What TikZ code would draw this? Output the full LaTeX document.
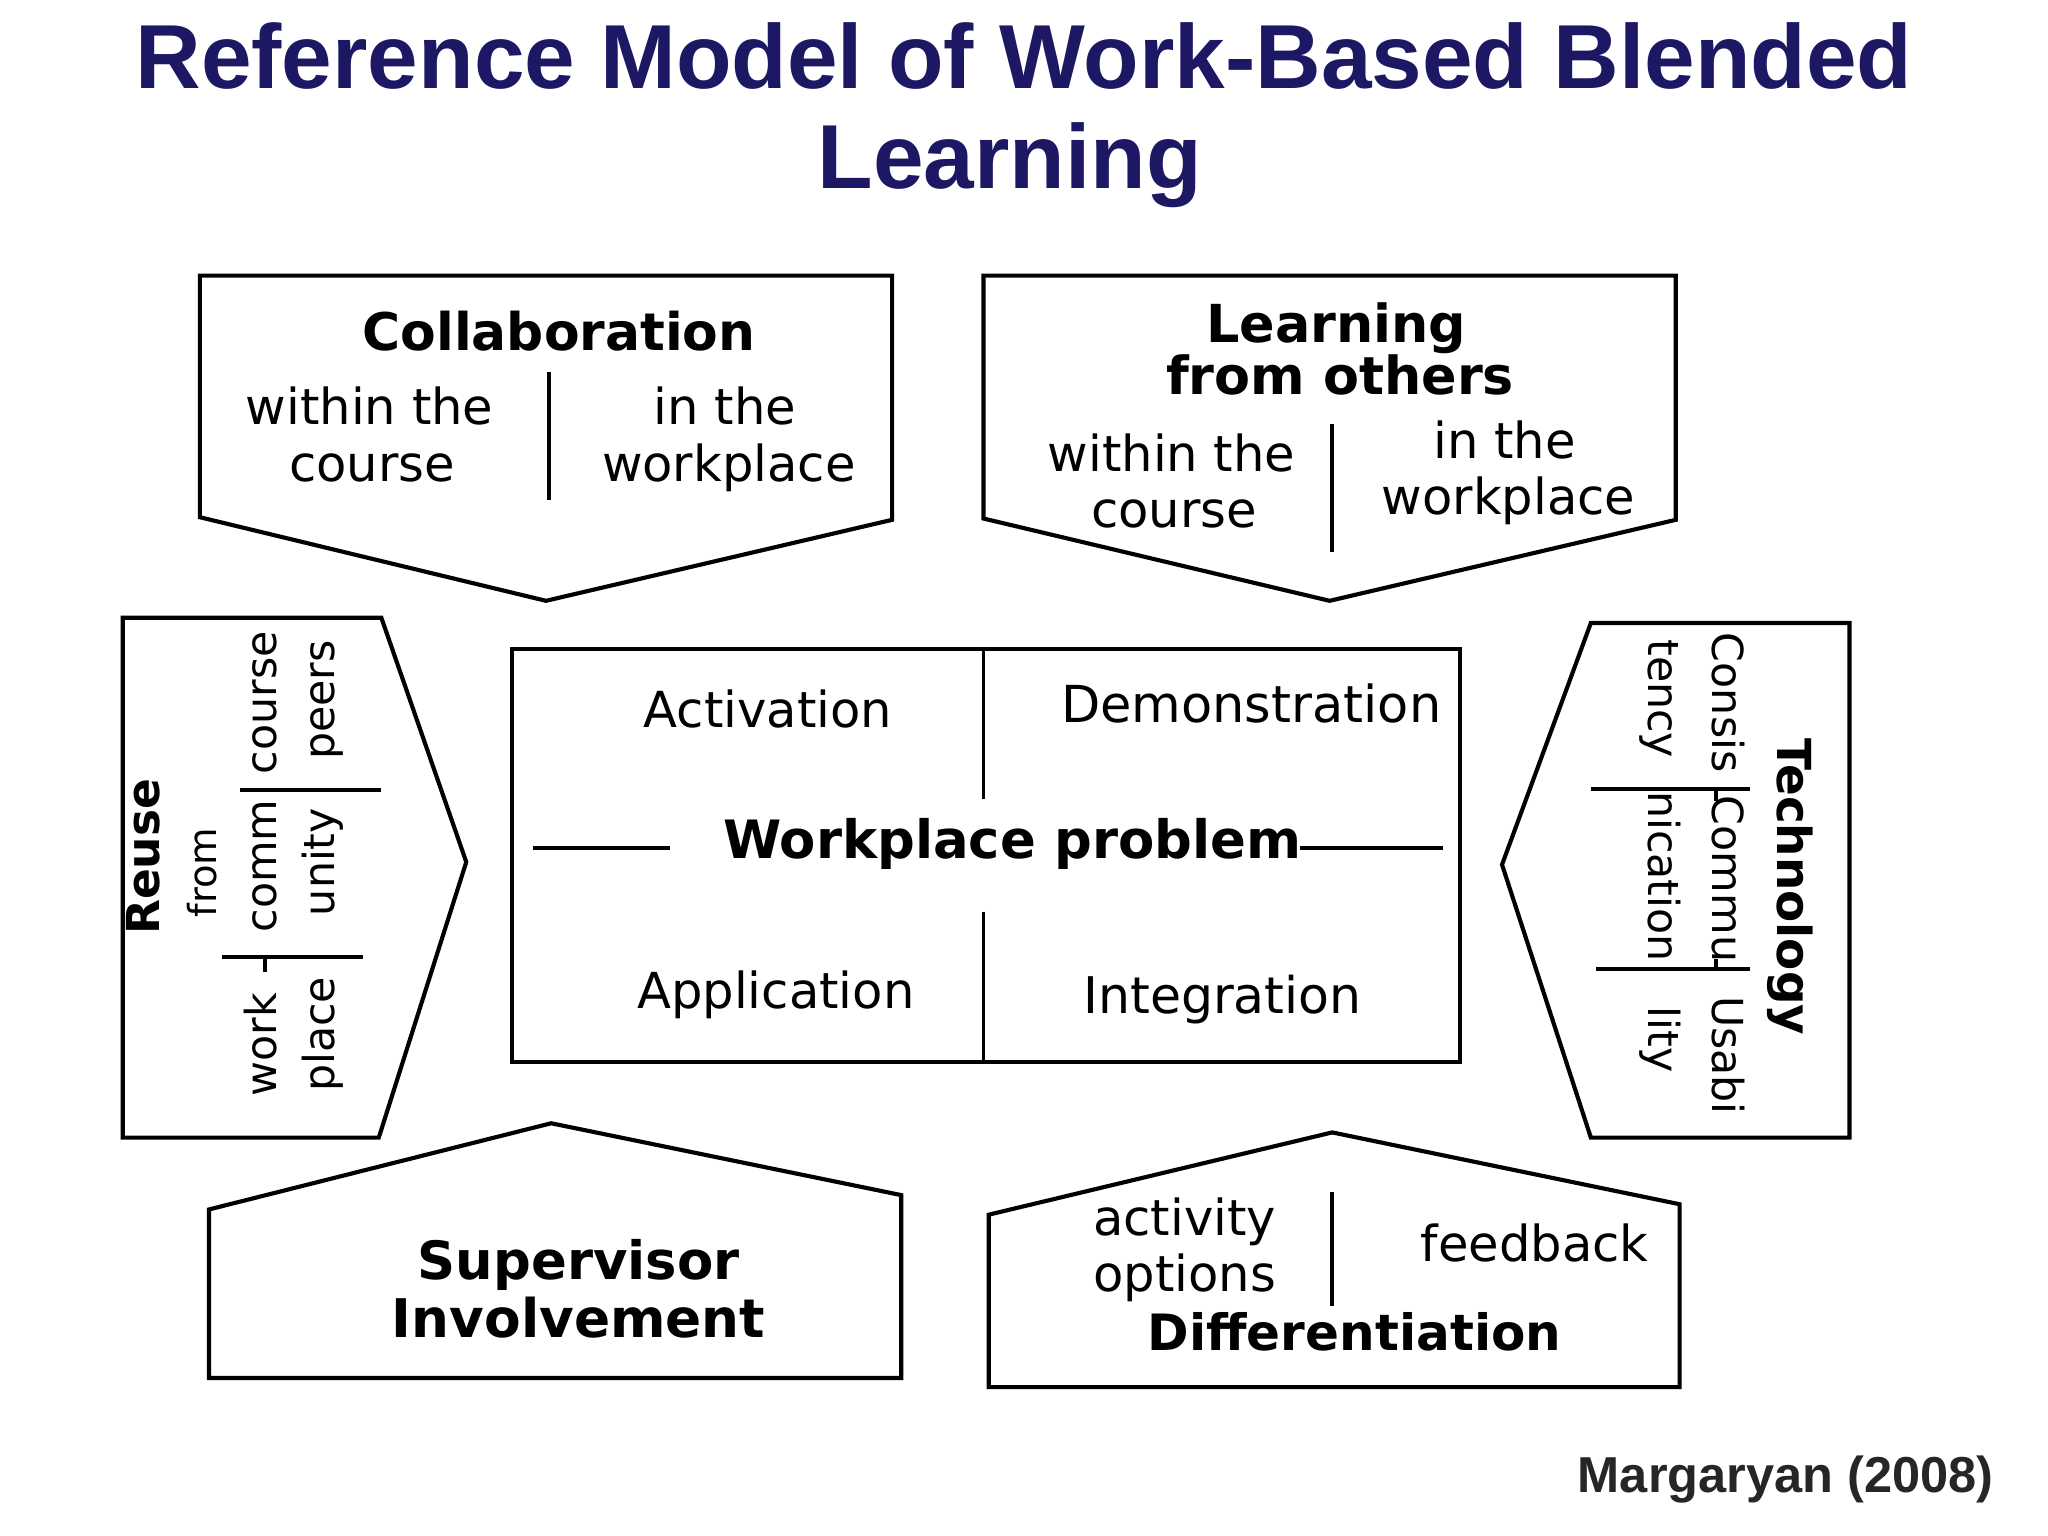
\documentclass[tikz,border=0pt]{standalone}
\usepackage{fontspec}
\setmainfont{DejaVu Sans}
\newfontfamily\titlefont{Liberation Sans}
\definecolor{navy}{RGB}{28,24,100}
\definecolor{credit}{RGB}{38,38,38}
\begin{document}
\begin{tikzpicture}[x=0.01cm,y=-0.01cm,
  outline/.style={draw=black, line width=0.9pt, line join=miter},
  divider/.style={draw=black, line width=0.85pt},
  txt/.style={inner sep=0pt, anchor=base, font=\fontsize{10.8}{13}\selectfont},
  btxt/.style={inner sep=0pt, anchor=base, font=\fontsize{11.4}{13}\selectfont\bfseries},
  rtxt/.style={inner sep=0pt, anchor=base, font=\fontsize{9.3}{11}\selectfont},
  ttl/.style={inner sep=0pt, anchor=base, text=navy, font=\titlefont\fontsize{19.8}{24}\selectfont\bfseries}]
\useasboundingbox (0,0) rectangle (1568,1176);
\fill[white] (0,0) rectangle (1568,1176);

% title
\node[ttl] (title1) at (784,68) {Reference Model of Work-Based Blended};
\node[ttl] (title2) at (773,144) {Learning};

% Collaboration
\draw[outline] (153,211) -- (683,211) -- (683,398) -- (418,460) -- (153,396) -- cycle;
\node[btxt, font=\fontsize{11.3}{13}\selectfont\bfseries] (collab) at (428,268) {Collaboration};
\node[txt] (cw1) at (283,325) {within the};
\node[txt] (cw2) at (285,369) {course};
\node[txt] (cp1) at (555,325) {in the};
\node[txt] (cp2) at (558,369) {workplace};
\draw[divider] (420,285) -- (420,383);

% Learning from others
\draw[outline] (753,211) -- (1283,211) -- (1283,398) -- (1018,460) -- (753,397) -- cycle;
\node[btxt] (lfo1) at (1023,262) {Learning};
\node[btxt] (lfo2) at (1026,302) {from others};
\node[txt] (lw1) at (897,361) {within the};
\node[txt] (lw2) at (899,404) {course};
\node[txt] (lp1) at (1152,351) {in the};
\node[txt] (lp2) at (1155,394) {workplace};
\draw[divider] (1020,325) -- (1020,423);

% Reuse (left)
\draw[outline] (94,473) -- (292,473) -- (357,660) -- (290,871) -- (94,871) -- cycle;
\node[btxt, rotate=90, font=\fontsize{9.9}{11}\selectfont\bfseries] (reuse) at (122,656) {Reuse};
\node[rtxt, rotate=90, font=\fontsize{8.4}{10}\selectfont] (from) at (166,668) {from};
\node[rtxt, rotate=90] (r11) at (212,538) {course};
\node[rtxt, rotate=90] (r12) at (256,536) {peers};
\node[rtxt, rotate=90] (r21) at (212,663) {comm};
\node[rtxt, rotate=90] (r22) at (256,660) {unity};
\node[rtxt, rotate=90] (r31) at (212,800) {work};
\node[rtxt, rotate=90] (r32) at (256,792) {place};
\draw[divider] (184,605) -- (292,605);
\draw[divider] (170,733) -- (278,733);
\draw[divider] (203,733) -- (203,744);

% Technology (right)
\draw[outline] (1416,477) -- (1218,477) -- (1150,662) -- (1218,871) -- (1416,871) -- cycle;
\node[btxt, rotate=-90, font=\fontsize{10.2}{12}\selectfont\bfseries] (tech) at (1361,679) {Technology};
\node[rtxt, rotate=-90] (t11) at (1311,538) {Consis};
\node[rtxt, rotate=-90] (t12) at (1262,535) {tency};
\node[rtxt, rotate=-90] (t21) at (1311,673) {Commu};
\node[rtxt, rotate=-90] (t22) at (1262,671) {nication};
\node[rtxt, rotate=-90] (t31) at (1311,808) {Usabi};
\node[rtxt, rotate=-90] (t32) at (1262,796) {lity};
\draw[divider] (1218,604) -- (1340,604);
\draw[divider] (1222,742) -- (1340,742);
\draw[divider] (1314,604) -- (1314,613);
\draw[divider] (1314,734) -- (1314,742);

% centre box
\draw[outline] (392,497) rectangle (1118,813);
\draw[divider] (753,497) -- (753,612);
\draw[divider] (753,698) -- (753,813);
\draw[divider] (408,649) -- (513,649);
\draw[divider] (995,649) -- (1105,649);
\node[btxt, font=\fontsize{11.5}{13}\selectfont\bfseries] (wp) at (775,657) {Workplace problem};
\node[txt] (act) at (588,557) {Activation};
\node[txt, font=\fontsize{11.1}{13}\selectfont] (dem) at (958,553) {Demonstration};
\node[txt] (app) at (594,772) {Application};
\node[txt, font=\fontsize{11}{13}\selectfont] (int) at (936,776) {Integration};

% Supervisor Involvement
\draw[outline] (160,1055) -- (160,926) -- (422,860) -- (690,915) -- (690,1055) -- cycle;
\node[btxt, font=\fontsize{11.5}{13}\selectfont\bfseries] (sup1) at (443,980) {Supervisor};
\node[btxt, font=\fontsize{11.6}{13}\selectfont\bfseries] (sup2) at (443,1024) {Involvement};

% Differentiation
\draw[outline] (757,1062) -- (757,930) -- (1020,867) -- (1286,922) -- (1286,1062) -- cycle;
\node[txt] (ao1) at (907,946) {activity};
\node[txt] (ao2) at (907,989) {options};
\node[txt] (fb) at (1175,966) {feedback};
\draw[divider] (1020,913) -- (1020,1000);
\node[btxt, font=\fontsize{10.9}{12}\selectfont\bfseries] (diff) at (1037,1034) {Differentiation};

% credit
\node[inner sep=0pt, anchor=base east, text=credit, font=\titlefont\fontsize{11}{13}\selectfont\bfseries] (credit) at (1527,1143) {Margaryan (2008)};
\end{tikzpicture}
\end{document}
